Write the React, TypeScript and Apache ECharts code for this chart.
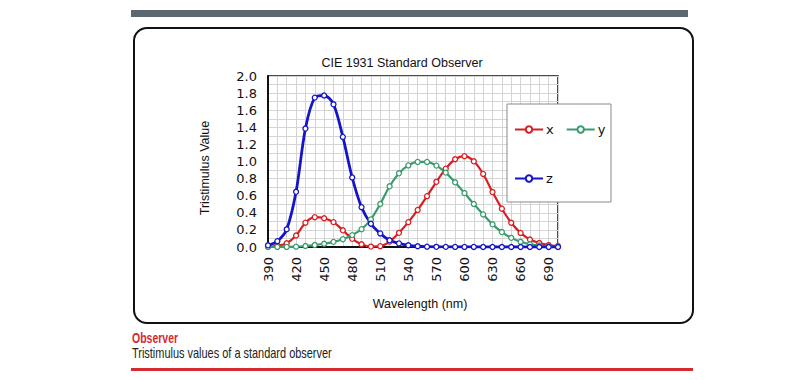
import React, { useEffect, useRef } from "react";
import * as echarts from "echarts";

const wavelengths = [390, 400, 410, 420, 430, 440, 450, 460, 470, 480, 490, 500, 510, 520, 530, 540, 550, 560, 570, 580, 590, 600, 610, 620, 630, 640, 650, 660, 670, 680, 690, 700];
const xBar = [0.0042, 0.0143, 0.0435, 0.1344, 0.2839, 0.3483, 0.3362, 0.2908, 0.1954, 0.0956, 0.032, 0.0049, 0.0093, 0.0633, 0.1655, 0.2904, 0.4334, 0.5945, 0.7621, 0.9163, 1.0263, 1.0622, 1.0026, 0.8544, 0.6424, 0.4479, 0.2835, 0.1649, 0.0874, 0.0468, 0.0227, 0.0114];
const yBar = [0.0001, 0.0004, 0.0012, 0.004, 0.0116, 0.023, 0.038, 0.06, 0.091, 0.139, 0.208, 0.323, 0.503, 0.71, 0.862, 0.954, 0.995, 0.995, 0.952, 0.87, 0.757, 0.631, 0.503, 0.381, 0.265, 0.175, 0.107, 0.061, 0.032, 0.017, 0.0082, 0.0041];
const zBar = [0.0201, 0.0679, 0.2074, 0.6456, 1.3856, 1.7471, 1.7721, 1.6692, 1.2876, 0.813, 0.4652, 0.272, 0.1582, 0.0783, 0.0422, 0.0203, 0.0088, 0.0039, 0.0021, 0.0017, 0.0011, 0.0008, 0.0003, 0.0002, 0.0001, 0.0, 0.0, 0.0, 0.0, 0.0, 0.0, 0.0];
const yTicks = [0, 0.2, 0.4, 0.6, 0.8, 1.0, 1.2, 1.4, 1.6, 1.8, 2.0];

const RED = "#d81e22";
const GREEN = "#3a9b6c";
const BLUE = "#1414c8";

export default function App() {
  const ref = useRef<HTMLDivElement>(null);
  useEffect(() => {
    if (!ref.current) return;
    const chart = echarts.init(ref.current, null, { renderer: "svg" });
    const mk = (name: string, data: number[], color: string, width: number) => ({
      name,
      type: "line",
      data,
      smooth: 0.3,
      symbol: "circle",
      symbolSize: 5,
      showSymbol: true,
      lineStyle: { color, width },
      itemStyle: { color: "#ffffff", borderColor: color, borderWidth: 1.3 },
      color,
    });
    const legendText = { fontFamily: "DejaVu Sans", fontSize: 13, color: "#111", padding: [0, 0, 0, -2] };
    chart.setOption({
      animation: false,
      textStyle: { fontFamily: "DejaVu Sans" },
      title: {
        text: "CIE 1931 Standard Observer",
        left: 397,
        top: 51,
        textAlign: "center",
        textStyle: { fontFamily: "Liberation Sans", fontSize: 12.5, fontWeight: "normal", color: "#111" },
      },
      grid: {
        left: 268,
        top: 76,
        right: 241,
        bottom: 133,
        show: true,
        borderColor: "#111",
        borderWidth: 1.5,
      },
      legend: [
        {
          data: ["x", "y"],
          left: 509,
          top: 118,
          itemWidth: 28,
          itemHeight: 8,
          itemGap: 12,
          z: 10,
          textStyle: legendText,
        },
        {
          data: ["z"],
          left: 509,
          top: 167,
          itemWidth: 28,
          itemHeight: 8,
          z: 10,
          textStyle: legendText,
        },
      ],
      xAxis: {
        type: "category",
        data: wavelengths.map(String),
        boundaryGap: false,
        axisLine: { lineStyle: { color: "#111", width: 2 } },
        axisTick: { show: false },
        axisLabel: {
          interval: 2,
          rotate: 90,
          margin: 10,
          fontFamily: "DejaVu Sans",
          fontSize: 13,
          color: "#111",
        },
        splitLine: { show: true, interval: 0, lineStyle: { color: "#d4d4d4", width: 1 } },
      },
      yAxis: {
        type: "value",
        min: 0,
        max: 2,
        interval: 0.2,
        axisLine: { show: true, lineStyle: { color: "#111", width: 2 } },
        axisTick: { show: false },
        axisLabel: {
          margin: 11,
          fontFamily: "DejaVu Sans",
          fontSize: 13,
          color: "#111",
          formatter: (v: number) => {
            const t = yTicks.find((k) => Math.abs(k - v) < 1e-6);
            return (t ?? v).toFixed(1);
          },
        },
        splitLine: { show: true, lineStyle: { color: "#d4d4d4", width: 1 } },
        minorTick: { show: false, splitNumber: 2 },
        minorSplitLine: { show: true, lineStyle: { color: "#d4d4d4", width: 1 } },
      },
      series: [mk("x", xBar, RED, 2.2), mk("y", yBar, GREEN, 2.2), mk("z", zBar, BLUE, 2.8)],
      graphic: [
        { type: "rect", z: 0, shape: { x: 131, y: 10, width: 557, height: 7 }, style: { fill: "#5b6870" } },
        {
          type: "rect",
          z: 0,
          shape: { x: 134, y: 28, width: 559, height: 295, r: 13 },
          style: { fill: "none", stroke: "#111", lineWidth: 2 },
        },
        {
          type: "rect",
          z: 3,
          shape: { x: 507, y: 104, width: 104, height: 98 },
          style: { fill: "#ffffff", stroke: "#8a8a8a", lineWidth: 1 },
        },
        {
          type: "text",
          z: 5,
          x: 420,
          y: 297,
          style: {
            text: "Wavelength (nm)",
            textAlign: "center",
            fontFamily: "Liberation Sans",
            fontSize: 12.5,
            fill: "#111",
          },
        },
        {
          type: "text",
          z: 5,
          x: 198,
          y: 168,
          rotation: Math.PI / 2,
          style: {
            text: "Tristimulus Value",
            textAlign: "center",
            fontFamily: "Liberation Sans",
            fontSize: 12.5,
            fill: "#111",
          },
        },
        {
          type: "text",
          z: 5,
          x: 132,
          y: 330,
          scaleX: 0.7,
          style: {
            text: "Observer",
            fontFamily: "Liberation Sans",
            fontWeight: "bold",
            fontSize: 15,
            fill: "#d42a30",
          },
        },
        {
          type: "text",
          z: 5,
          x: 132,
          y: 345,
          scaleX: 0.73,
          style: {
            text: "Tristimulus values of a standard observer",
            fontFamily: "Liberation Sans",
            fontSize: 15,
            fill: "#222",
          },
        },
        { type: "rect", z: 0, shape: { x: 131, y: 368, width: 562, height: 3 }, style: { fill: "#d42a30" } },
      ],
    });
    return () => chart.dispose();
  }, []);
  return <div ref={ref} style={{ position: "absolute", left: 0, top: 0, width: 799, height: 380 }} />;
}
